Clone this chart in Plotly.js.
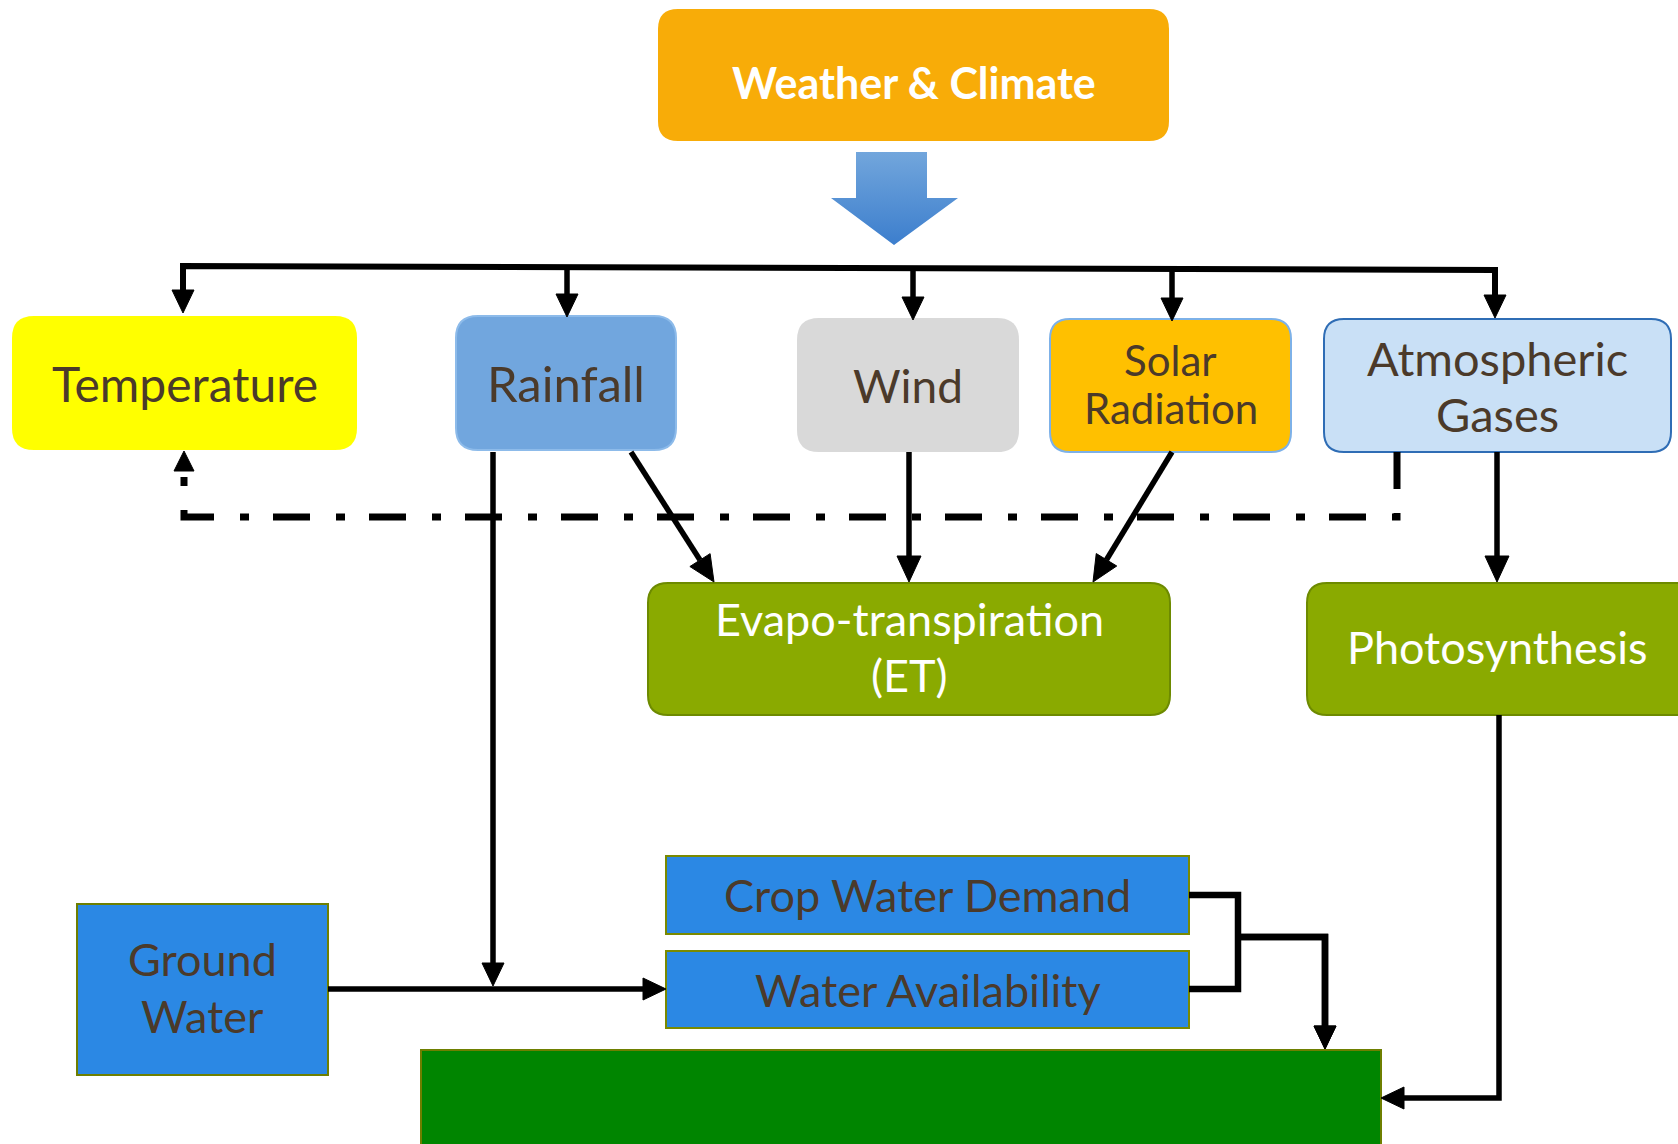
<!DOCTYPE html>
<html><head><meta charset="utf-8">
<script src="https://cdn.plot.ly/plotly-3.0.1.min.js"></script>
<style>html,body{margin:0;padding:0;background:#fff;}#chart{width:1678px;height:1144px;}</style>
</head><body><div id="chart"></div>
<script>
// ---- diagram content ----
const nodeIds = ['weather','temp','rain','wind','solar','atmo','et','photo','ground','cwd','wa','yield'];
const nodeLabels = [
  ['Weather & Climate'],
  ['Temperature'],
  ['Rainfall'],
  ['Wind'],
  ['Solar','Radiation'],
  ['Atmospheric','Gases'],
  ['Evapo-transpiration','(ET)'],
  ['Photosynthesis'],
  ['Ground','Water'],
  ['Crop Water Demand'],
  ['Water Availability'],
  []
];
// edges: from -> to (solid arrows) and feedback (dash-dot)
const edgeFrom = ['weather','weather','weather','weather','weather','rain','wind','solar','atmo','rain','ground','cwd','wa','photo'];
const edgeTo   = ['temp','rain','wind','solar','atmo','et','et','et','photo','wa','wa','yield','yield','yield'];
const feedbackFrom = ['atmo'];
const feedbackTo = ['temp'];

// ---- geometry / style (kept separate from content) ----
const geom = {
  weather:{x0:658,x1:1169,y0:9,y1:141,r:20,fill:'#F8AC08',line:null},
  temp:{x0:12,x1:357,y0:316,y1:450,r:22,fill:'#FFFF00',line:null},
  rain:{x0:456,x1:676,y0:316,y1:450,r:22,fill:'#71A6DE',line:'#8DBBEA'},
  wind:{x0:797,x1:1019,y0:318,y1:452,r:22,fill:'#D9D9D9',line:null},
  solar:{x0:1050,x1:1291,y0:319,y1:452,r:20,fill:'#FFC000',line:'#7DB1E8'},
  atmo:{x0:1324,x1:1671,y0:319,y1:452,r:20,fill:'#C9E0F6',line:'#2F6DB5'},
  et:{x0:648,x1:1170,y0:583,y1:715,r:20,fill:'#8AAA00',line:'#6D8A00'},
  photo:{x0:1307,x1:1710,y0:583,y1:715,r:20,fill:'#8AAA00',line:'#6D8A00'},
  ground:{x0:77,x1:328,y0:904,y1:1075,r:0,fill:'#2B88E4',line:'#6E7F00'},
  cwd:{x0:666,x1:1189,y0:856,y1:934,r:0,fill:'#2B88E4',line:'#7A8A00'},
  wa:{x0:666,x1:1189,y0:951,y1:1028,r:0,fill:'#2B88E4',line:'#7A8A00'},
  yield:{x0:421,x1:1381,y0:1050,y1:1170,r:0,fill:'#008500',line:'#6E7F00'}
};
const textStyle = {
  weather:{size:43,color:'#FFFFFF',weight:'bold',gap:0,dy:7},
  temp:{size:48,color:'#4B3A2A',gap:0,dy:0},
  rain:{size:49,color:'#4B3A2A',gap:0,dy:0},
  wind:{size:46,color:'#4B3A2A',gap:0,dy:0},
  solar:{size:42,color:'#4B3A2A',gap:48,dy:-2},
  atmo:{size:47,color:'#4B3A2A',gap:56,dy:0},
  et:{size:45,color:'#FFFFFF',gap:56,dy:-2},
  photo:{size:45,color:'#FFFFFF',gap:0,dy:-2},
  ground:{size:45,color:'#4B3A2A',gap:57,dy:-2},
  cwd:{size:45,color:'#4B3A2A',gap:0,dy:0},
  wa:{size:45,color:'#4B3A2A',gap:0,dy:0}
};
// routed edge paths (pixel waypoints), index-aligned with edgeFrom/edgeTo
const route = [
  [[183,268],[183,313]],
  [[567,268],[567,317]],
  [[913,269],[913,320]],
  [[1172,269],[1172,321]],
  [[1495,270],[1495,318]],
  [[631,452],[714,582]],
  [[909,452],[909,582]],
  [[1172,452],[1093,582]],
  [[1497,452],[1497,582]],
  [[493,452],[493,986]],
  [[328,989],[666,989]],
  [[1238,937],[1325,937],[1325,1049]],
  [[1238,937],[1325,937],[1325,1049]],
  [[1499,715],[1499,1098],[1381,1098]]
];
const feedbackRoute = [[[1397,452],[1397,517],[184,517],[184,470]]];

const shapes = [];
const annotations = [];
const LW = 5.5;

function roundRect(g){
  const {x0,x1,y0,y1,r} = g;
  if(!r) return `M${x0},${y0}H${x1}V${y1}H${x0}Z`;
  return `M${x0+r},${y0}H${x1-r}Q${x1},${y0} ${x1},${y0+r}V${y1-r}Q${x1},${y1} ${x1-r},${y1}H${x0+r}Q${x0},${y1} ${x0},${y1-r}V${y0+r}Q${x0},${y0} ${x0+r},${y0}Z`;
}

nodeIds.forEach((id,i)=>{
  const g = geom[id];
  shapes.push({type:'path',xref:'x',yref:'y',path:roundRect(g),fillcolor:g.fill,
    line:{color:g.line||g.fill,width:g.line?2:0},layer:'below'});
  const lines = nodeLabels[i];
  const ts = textStyle[id];
  if(!lines.length) return;
  const cy=(g.y0+g.y1)/2+ts.dy;
  lines.forEach((t,k)=>{
    const y = cy + (k-(lines.length-1)/2)*ts.gap;
    annotations.push({x:id==='photo'?1497:(g.x0+g.x1)/2,y:y,xref:'x',yref:'y',text:t,showarrow:false,
      xanchor:'center',yanchor:'middle',
      font:{family:'Lato, "Open Sans", sans-serif',size:ts.size,color:ts.color,weight:ts.weight||'normal'}});
  });
});

function arrowHead(tip,prev,len,w){
  const dx=tip[0]-prev[0], dy=tip[1]-prev[1];
  const L=Math.hypot(dx,dy); const ux=dx/L, uy=dy/L;
  const bx=tip[0]-ux*len, by=tip[1]-uy*len;
  const px=-uy*w/2, py=ux*w/2;
  shapes.push({type:'path',xref:'x',yref:'y',
    path:`M${tip[0]},${tip[1]}L${bx+px},${by+py}L${bx-px},${by-py}Z`,
    fillcolor:'#000',line:{color:'#000',width:1}});
  return [bx,by];
}
function polyline(pts,dash,width){
  let p=`M${pts[0][0]},${pts[0][1]}`;
  for(let k=1;k<pts.length;k++) p+=`L${pts[k][0]},${pts[k][1]}`;
  shapes.push({type:'path',xref:'x',yref:'y',path:p,line:{color:'#000',width:width||LW,dash:dash||'solid'}});
}

// bus from weather (horizontal distribution line)
polyline([[183,290],[183,266],[1495,270],[1495,297]],null,6);
// connectors between crop water demand / water availability
polyline([[1189,895],[1238,895],[1238,989],[1189,989]],null,6.5);

route.forEach((pts,i)=>{
  const n=pts.length;
  const tip=pts[n-1], prev=pts[n-2];
  const base=arrowHead(tip,prev,i>=5&&i<=8?26:23,i>=5&&i<=8?24:22);
  const body=pts.slice(0,n-1).concat([base]);
  polyline(body,null,i===11||i===12?6.5:LW);
});
feedbackRoute.forEach(pts=>{
  polyline(pts,'37px,24px,9px,26px',7);
  arrowHead([184,451],[184,480],20,20);
});

// big blue down arrow below Weather & Climate
const blueX=[856,927,927,958,894,831,856,856];
const blueY=[152,152,198,198,245,198,198,152];

const data=[{type:'scatter',mode:'lines',x:blueX,y:blueY,fill:'toself',
  fillcolor:'#4D8DD4',
  fillgradient:{type:'vertical',colorscale:[[0,'#3C7ECD'],[1,'#72A6DC']]},
  line:{width:0,color:'rgba(0,0,0,0)'},hoverinfo:'skip',showlegend:false}];

const layout={width:1678,height:1144,margin:{l:0,r:0,t:0,b:0},
  paper_bgcolor:'#fff',plot_bgcolor:'#fff',showlegend:false,
  xaxis:{range:[0,1678],visible:false,fixedrange:true},
  yaxis:{range:[1144,0],visible:false,fixedrange:true},
  shapes:shapes,annotations:annotations};
Plotly.newPlot('chart',data,layout,{displayModeBar:false,staticPlot:true});
</script></body></html>
